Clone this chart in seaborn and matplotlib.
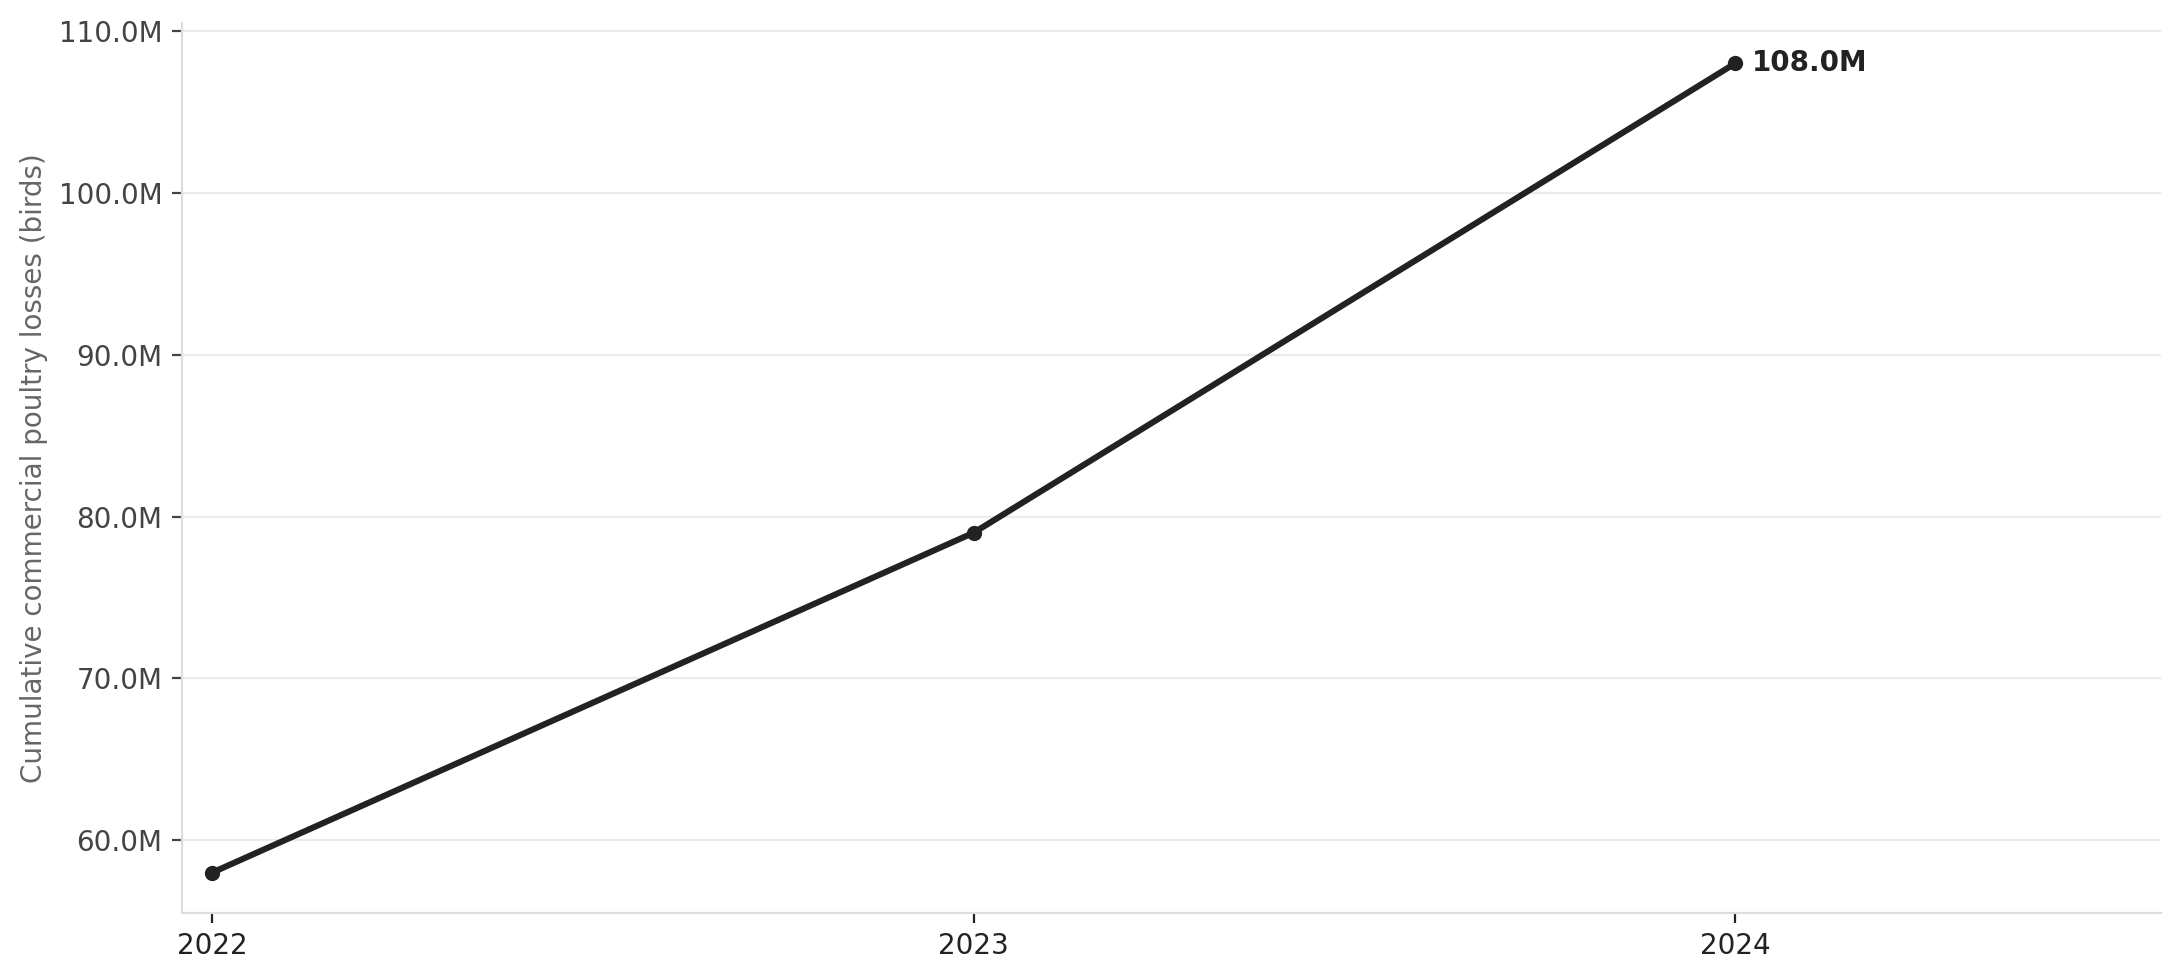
import numpy as np
import pandas as pd
import seaborn as sns
import matplotlib.pyplot as plt
from matplotlib.ticker import FuncFormatter

anos = [2022, 2023, 2024]
perdas = [58.0e6, 79.0e6, 108.0e6]

df = pd.DataFrame({"ano": anos, "perdas": perdas})

sns.set_style("white")
plt.rcParams['font.family'] = ['DejaVu Sans']

fig, ax = plt.subplots(figsize=(10.905, 4.9), dpi=200)
fig.subplots_adjust(left=0.0834, right=0.991, top=0.9765, bottom=0.0684)

sns.lineplot(data=df, x="ano", y="perdas", ax=ax, color="#222222",
             linewidth=2.2, marker="o", markersize=5.5, markeredgewidth=0)

# rótulo no último ponto
ax.annotate(f"{perdas[-1] / 1e6:.1f}M", xy=(anos[-1], perdas[-1]),
            xytext=(6, 0), textcoords="offset points", va="center", ha="left",
            fontsize=10, fontweight="bold", color="#222222")

ax.set_xticks(anos)
ax.set_xticklabels([str(a) for a in anos])
ax.set_xlim(2021.96, 2024.56)
ax.set_yticks(np.arange(60e6, 110e6 + 1, 10e6))
ax.yaxis.set_major_formatter(FuncFormatter(lambda v, p: f"{v / 1e6:.1f}M"))
ax.set_ylim(55.5e6, 110.5e6)

ax.set_xlabel("")
ax.set_ylabel("Cumulative commercial poultry losses (birds)", fontsize=10, color="#666666")

ax.grid(axis="y", color="#ebebeb", linewidth=0.8)
ax.grid(axis="x", visible=False)
ax.set_axisbelow(True)

for lado in ["top", "right"]:
    ax.spines[lado].set_visible(False)
for lado in ["left", "bottom"]:
    ax.spines[lado].set_color("#dddddd")
    ax.spines[lado].set_linewidth(0.8)

ax.tick_params(axis="y", labelsize=10, labelcolor="#444444", color="#444444",
               length=3.5, width=0.8, left=True)
ax.tick_params(axis="x", labelsize=10, labelcolor="#222222", color="#222222",
               length=3.5, width=0.8, bottom=True)

fig.savefig("out.png", dpi=200)
